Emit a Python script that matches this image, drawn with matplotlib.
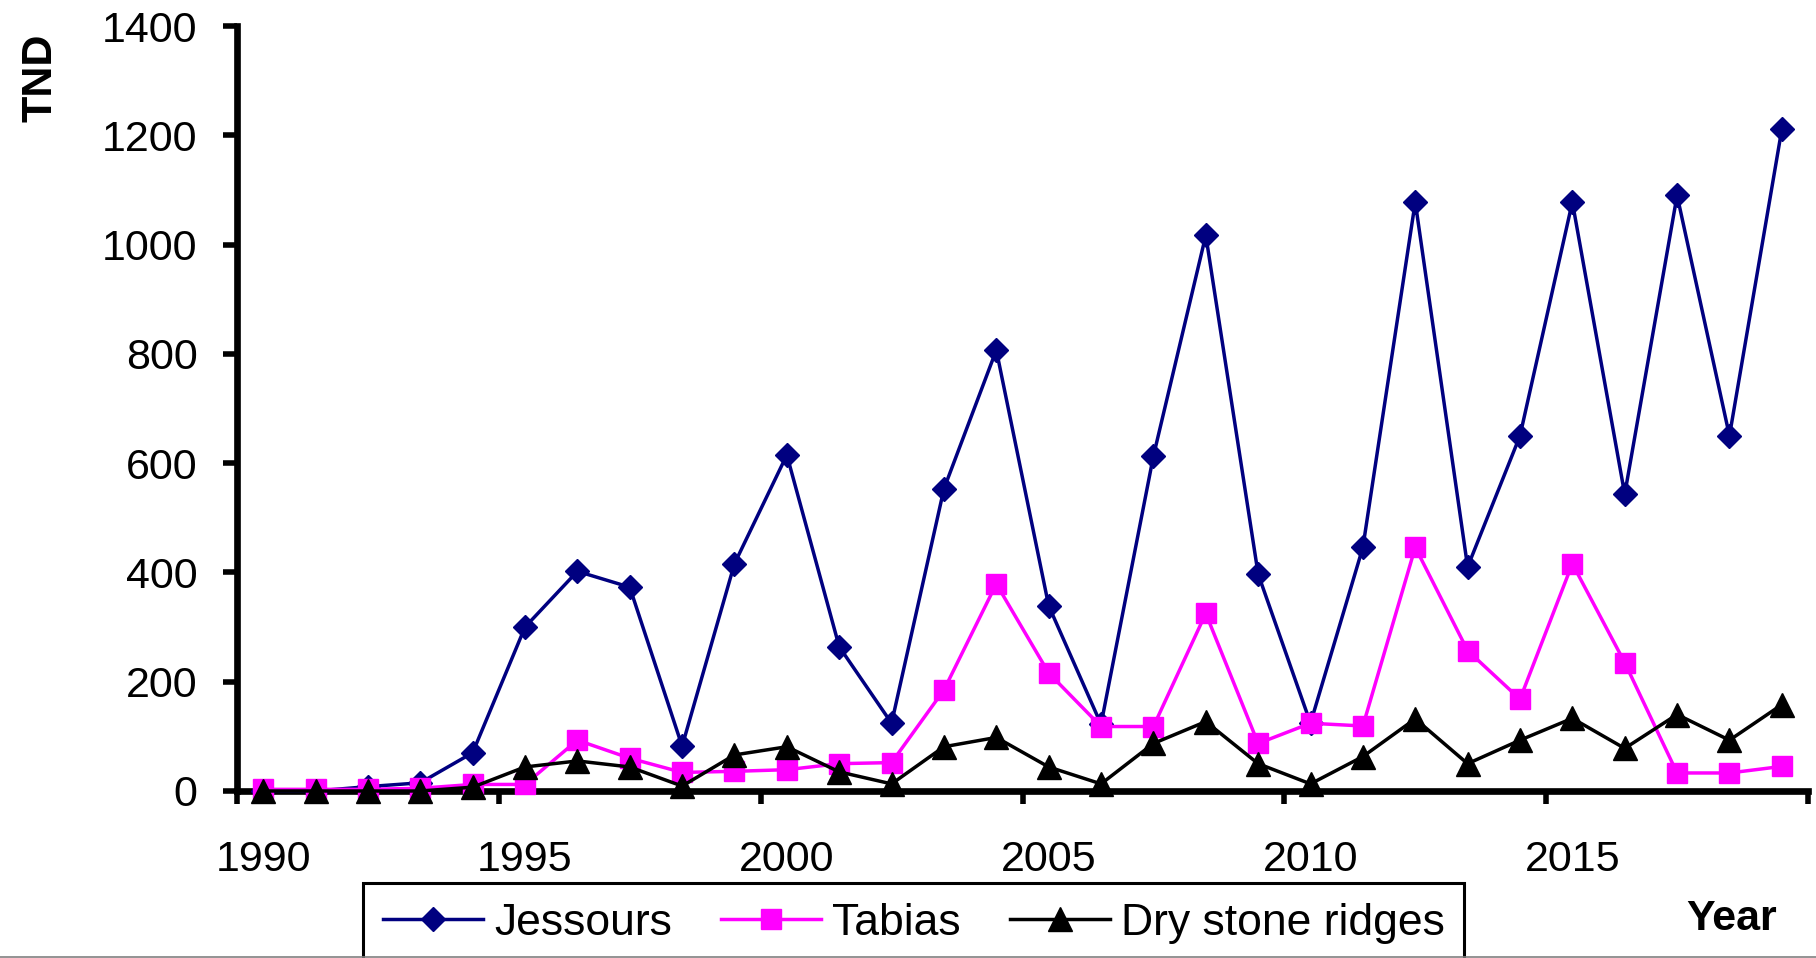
import matplotlib
matplotlib.use("Agg")
import matplotlib.pyplot as plt
from matplotlib.lines import Line2D

plt.rcParams["font.family"] = ["Liberation Sans", "DejaVu Sans"]

# Annual values (TND), one entry per year 1990..2019
years = list(range(1990, 2020))
jessours = [0, 0, 8, 15, 70, 300, 402, 373, 82, 416,
            615, 264, 124, 553, 807, 339, 122, 613, 1017, 397,
            124, 446, 1078, 410, 650, 1078, 543, 1090, 650, 1211]
tabias = [3, 3, 3, 5, 12, 12, 93, 60, 34, 36,
          39, 50, 52, 185, 379, 216, 118, 118, 325, 87,
          124, 119, 446, 257, 168, 416, 235, 33, 33, 45]
dry_stone = [0, 0, 0, 0, 7, 44, 55, 44, 9, 66,
             81, 35, 13, 81, 98, 44, 13, 87, 127, 50,
             13, 63, 132, 50, 93, 133, 78, 140, 93, 158]

series_names = ["Jessours", "Tabias", "Dry stone ridges"]
label_years = [1990, 1995, 2000, 2005, 2010, 2015]
y_ticks = [0, 200, 400, 600, 800, 1000, 1200, 1400]

W, H = 1816, 958
fig = plt.figure(figsize=(W / 100, H / 100), dpi=100)
ax = fig.add_axes([237 / W, 1 - 791 / H, (1808 - 237) / W, (791 - 26) / H])

styles = [
    dict(color="#000080", marker="D", markersize=12),
    dict(color="#FF00FF", marker="s", markersize=14.5),
    dict(color="black", marker="^", markersize=17.5),
]
for vals, name, st in zip([jessours, tabias, dry_stone], series_names, styles):
    ax.plot(years, vals, color=st["color"], lw=2.5, marker=st["marker"],
            markersize=st["markersize"], markerfacecolor=st["color"],
            markeredgecolor=st["color"], markeredgewidth=1,
            label=name, clip_on=False, zorder=5)

ax.set_xlim(1989.5, 2019.5)
ax.set_ylim(0, 1400)

for side in ["top", "right"]:
    ax.spines[side].set_visible(False)
for side in ["left", "bottom"]:
    ax.spines[side].set_linewidth(4.8)
    ax.spines[side].set_color("black")

# category boundaries carry the tick marks, labels sit on category centres
ax.set_xticks([1989.5 + 5 * i for i in range(7)])
ax.set_xticklabels([])
ax.set_xticks(label_years, minor=True)
ax.set_xticklabels([str(y) for y in label_years], minor=True)
ax.tick_params(axis="x", which="major", direction="out", length=9, width=4)
ax.tick_params(axis="x", which="minor", length=0, pad=35, labelsize=31)

ax.set_yticks(y_ticks)
ax.set_yticklabels([str(v) for v in y_ticks])
ax.tick_params(axis="y", direction="out", length=10, width=4, pad=18.5,
               labelsize=31)

fig.text(52 / W, 1 - 78 / H, "TND", rotation=90, rotation_mode="anchor",
         ha="center", va="baseline", fontsize=31, fontweight="bold")
fig.text(1732 / W, 1 - 930 / H, "Year", ha="center", va="baseline",
         fontsize=31, fontweight="bold")

leg = ax.legend(loc="upper left", bbox_to_anchor=(363 / W, 1 - 883 / H),
                bbox_transform=fig.transFigure, borderaxespad=0, ncol=3,
                fontsize=32, numpoints=1, handlelength=2.25,
                handletextpad=0.25, columnspacing=1.1, borderpad=0.45,
                fancybox=False, framealpha=1, edgecolor="black")
leg.get_frame().set_linewidth(2.2)

# thin grey border along the bottom edge
fig.add_artist(Line2D([0, 1], [1.0 / H, 1.0 / H], transform=fig.transFigure,
                      color="#808080", lw=1.2))

fig.savefig("out.png", dpi=100)
